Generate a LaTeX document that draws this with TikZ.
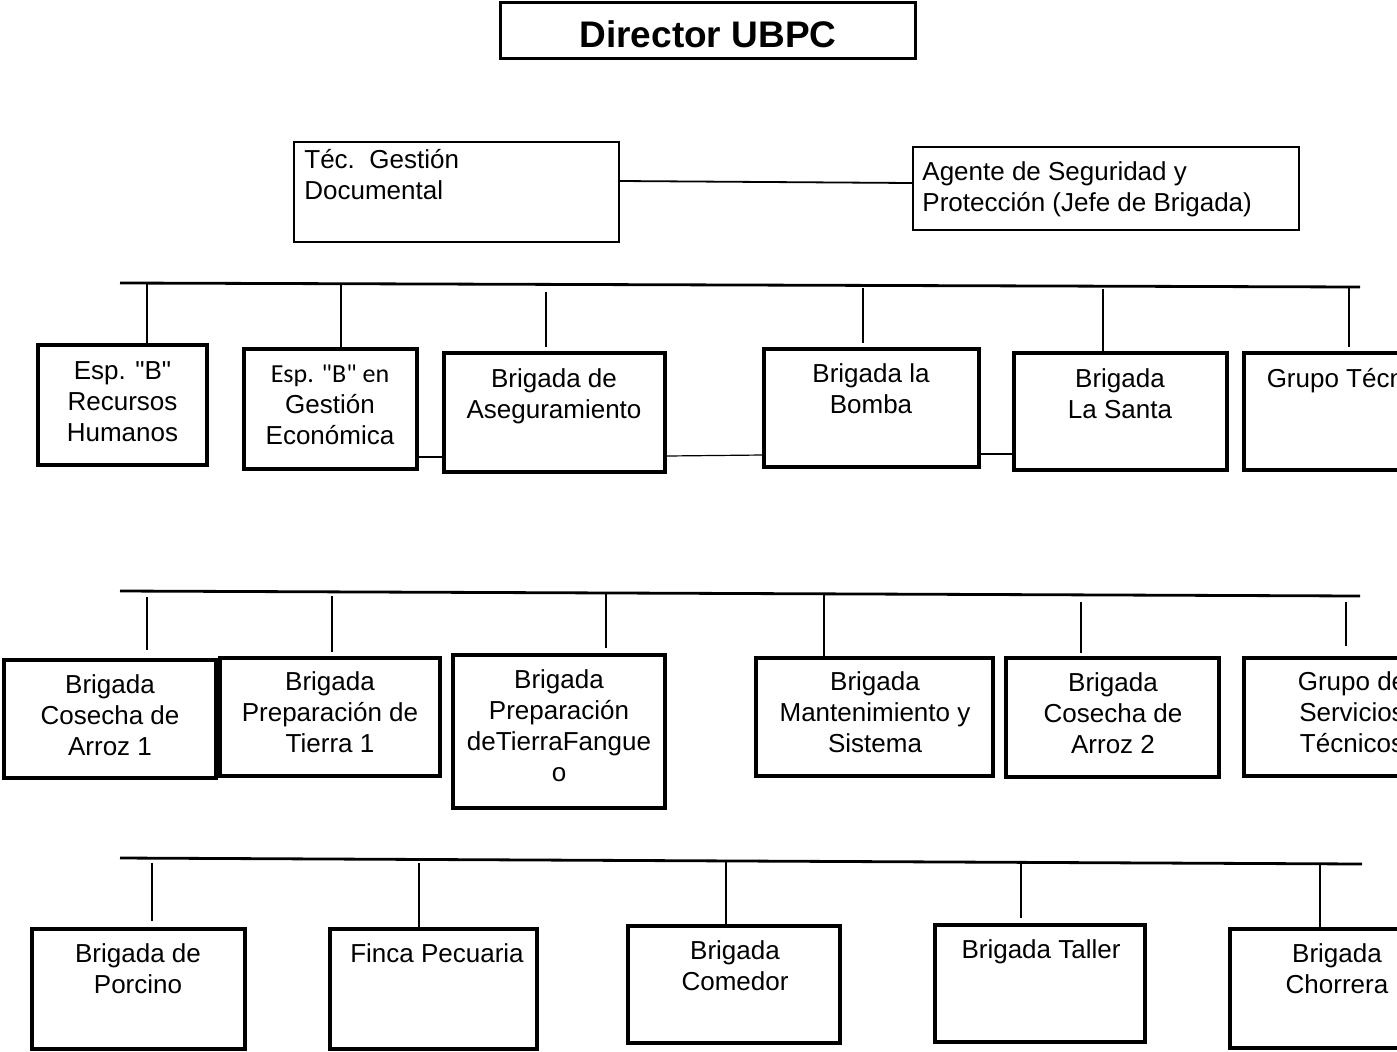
\documentclass[tikz,border=0pt]{standalone}
\usepackage{fontspec}
\setmainfont{Liberation Sans}
\newfontfamily\calib{Carlito}
\newfontfamily\plainq{Liberation Sans}
\usetikzlibrary{fit,calc}
\newcommand\obox[6]{\node[#1, fit={(#3,#4) (#5,#6)}] (#2) {};}
\newcommand\qd{{\plainq"}}
\begin{document}
\begin{tikzpicture}[x=0.5pt,y=-0.5pt,
  rowbox/.style={draw, line width=1.7pt, inner sep=0pt},
  topbox/.style={draw, line width=1.2pt, inner sep=0pt},
  dirbox/.style={draw, line width=1.5pt, inner sep=0pt},
  lbl/.style={inner sep=0pt, align=center, anchor=north, font=\fontsize{13}{15.5}\selectfont},
  llbl/.style={inner sep=0pt, align=left, anchor=north west, font=\fontsize{13}{15.5}\selectfont},
  bar/.style={line width=1.4pt},
  drop/.style={line width=0.6pt},
  link/.style={line width=0.6pt}]
\useasboundingbox (0,0) rectangle (1397,1051);
\clip (0,0) rectangle (1397,1051);

% Director
\obox{dirbox}{dir}{500}{2}{915}{58}
\node[inner sep=0pt, anchor=north, font=\fontsize{18.5}{20}\selectfont\bfseries] (dirt) at (708,20) {Director UBPC};

% second level
\obox{topbox}{tec}{294}{142}{619}{242}
\node[llbl] (tect) at (304,149) {Téc.~~Gestión\\Documental};
\obox{topbox}{age}{913}{147}{1299}{230}
\node[llbl] (aget) at (922,161) {Agente de Seguridad y\\Protección (Jefe de Brigada)};
\draw[link, line width=0.9pt] (tec.east |- 0,181) -- (age.west |- 0,183);

% row 1
\coordinate (r1L) at (120,283);
\coordinate (r1R) at (1360,287);
\draw[bar] (r1L) -- (r1R);
\obox{rowbox}{b1}{38}{345}{207}{465}
\obox{rowbox}{b2}{244}{349}{417}{469}
\obox{rowbox}{b3}{444}{353}{665}{472}
\obox{rowbox}{b4}{764}{349}{979}{467}
\obox{rowbox}{b5}{1014}{353}{1227}{470}
\obox{rowbox}{b6}{1244}{353}{1460}{470}
\node[lbl] (b1t) at (122.5,361) {Esp. \qd B\qd\\Recursos\\Humanos};
\node[lbl] (b2t) at (330,365) {{\calib Esp. "B" en}\\Gestión\\Económica};
\node[lbl] (b3t) at (554,368) {Brigada de\\Aseguramiento};
\node[lbl] (b4t) at (871,363) {Brigada la\\Bomba};
\node[lbl] (b5t) at (1120,368) {Brigada\\La Santa};
\node[lbl] (b6t) at (1352,368) {Grupo Técnico};
\coordinate (d11) at (147,284);
\coordinate (d12) at (341,285);
\coordinate (d13) at (546,292);
\coordinate (d14) at (863,288);
\coordinate (d15) at (1103,289);
\coordinate (d16) at (1349,287);
\draw[drop] (d11) -- (b1.north -| d11);
\draw[drop] (d12) -- (b2.north -| d12);
\draw[drop] (d13) -- ($(b3.north -| d13)+(0,-4)$);
\draw[drop] (d14) -- ($(b4.north -| d14)+(0,-4)$);
\draw[drop] (d15) -- (b5.north -| d15);
\draw[drop] (d16) -- ($(b6.north -| d16)+(0,-4)$);
\draw[link] (b2.east |- 0,457) -- (b3.west |- 0,457);
\draw[link] (b3.east |- 0,456) -- (b4.west |- 0,455);
\draw[link] (b4.east |- 0,454) -- (b5.west |- 0,454);

% row 2
\coordinate (r2L) at (120,591);
\coordinate (r2R) at (1360,596);
\draw[bar] (r2L) -- (r2R);
\obox{rowbox}{c1}{4}{660}{216}{778}
\obox{rowbox}{c2}{220}{658}{440}{776}
\obox{rowbox}{c3}{453}{655}{665}{808}
\obox{rowbox}{c4}{756}{658}{993}{776}
\obox{rowbox}{c5}{1006}{658}{1219}{777}
\obox{rowbox}{c6}{1244}{658}{1460}{776}
\node[lbl] (c1t) at (110,674) {Brigada\\Cosecha de\\Arroz 1};
\node[lbl] (c2t) at (330,671) {Brigada\\Preparación de\\Tierra 1};
\node[lbl] (c3t) at (559,669) {Brigada\\Preparación\\deTierraFangue\\o};
\node[lbl] (c4t) at (875,671) {Brigada\\Mantenimiento y\\Sistema};
\node[lbl] (c5t) at (1113,672) {Brigada\\Cosecha de\\Arroz 2};
\node[lbl] (c6t) at (1352,671) {Grupo de\\Servicios\\Técnicos};
\coordinate (d21) at (147,597);
\coordinate (d22) at (332,596);
\coordinate (d23) at (606,594);
\coordinate (d24) at (824,595);
\coordinate (d25) at (1081,602);
\coordinate (d26) at (1346,602);
\draw[drop] (d21) -- ($(c1.north -| d21)+(0,-8)$);
\draw[drop] (d22) -- ($(c2.north -| d22)+(0,-4)$);
\draw[drop] (d23) -- ($(c3.north -| d23)+(0,-5)$);
\draw[drop] (d24) -- (c4.north -| d24);
\draw[drop] (d25) -- ($(c5.north -| d25)+(0,-3)$);
\draw[drop] (d26) -- ($(c6.north -| d26)+(0,-10)$);

% row 3
\coordinate (r3L) at (120,858);
\coordinate (r3R) at (1362,864);
\draw[bar] (r3L) -- (r3R);
\obox{rowbox}{e1}{32}{929}{245}{1049}
\obox{rowbox}{e2}{330}{929}{537}{1049}
\obox{rowbox}{e3}{628}{926}{840}{1043}
\obox{rowbox}{e4}{935}{925}{1145}{1042}
\obox{rowbox}{e5}{1230}{929}{1445}{1048}
\node[lbl] (e1t) at (138,943) {Brigada de\\Porcino};
\node[lbl] (e2t) at (437,943) {Finca Pecuaria};
\node[lbl] (e3t) at (735,940) {Brigada\\Comedor};
\node[lbl] (e4t) at (1041,939) {Brigada Taller};
\node[lbl] (e5t) at (1337,943) {Brigada\\Chorrera};
\coordinate (d31) at (152,863);
\coordinate (d32) at (419,863);
\coordinate (d33) at (726,862);
\coordinate (d34) at (1021,863);
\coordinate (d35) at (1320,865);
\draw[drop] (d31) -- ($(e1.north -| d31)+(0,-6)$);
\draw[drop] (d32) -- (e2.north -| d32);
\draw[drop] (d33) -- (e3.north -| d33);
\draw[drop] (d34) -- ($(e4.north -| d34)+(0,-5)$);
\draw[drop] (d35) -- (e5.north -| d35);
\end{tikzpicture}
\end{document}
